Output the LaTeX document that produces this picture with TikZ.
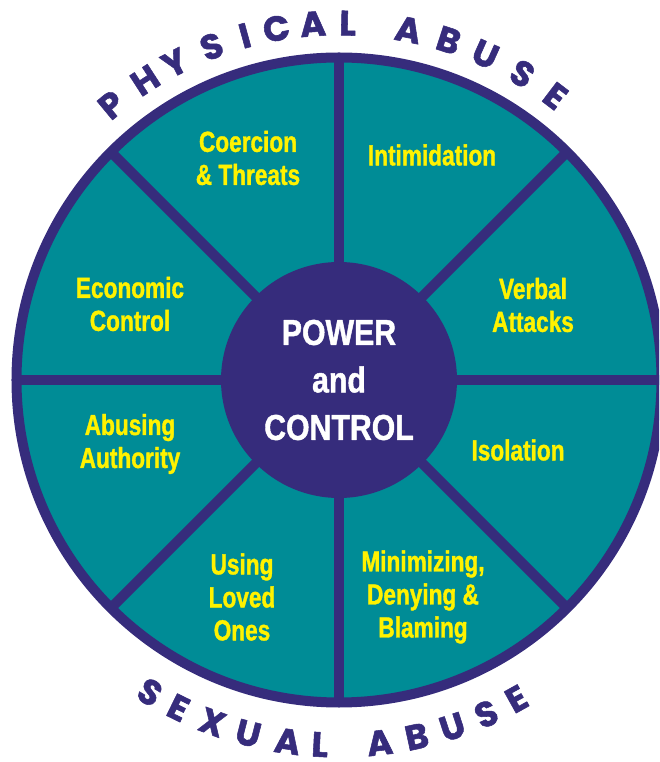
\documentclass[tikz,border=0pt]{standalone}
\usepackage{fontspec}
\setmainfont{Liberation Sans}
\newfontfamily\condfont{Liberation Sans}[FakeStretch=0.78, FakeBold=1.2]
\newfontfamily\hubfont{Liberation Sans}[FakeStretch=0.84, FakeBold=1.2]
\newfontfamily\arcfont{Poppins}[FakeBold=1.5]
\usepackage{tikz}

\definecolor{wheelteal}{RGB}{0,140,150}
\definecolor{wheelpurple}{RGB}{54,44,124}
\definecolor{labelyellow}{RGB}{255,242,0}

\begin{document}
\begin{tikzpicture}[x=1pt, y=1pt, line join=round,
  slice/.style={text=labelyellow, align=center, font=\condfont\bfseries\fontsize{29}{33}\selectfont},
  hub/.style={circle, fill=wheelpurple, minimum size=236pt, inner sep=0pt, text=white, align=center,
    font=\hubfont\bfseries\fontsize{36}{47.5}\selectfont},
  rimletter/.style={text=wheelpurple, inner sep=0pt, font=\arcfont\bfseries\fontsize{35}{35}\selectfont},
  spoke/.style={wheelpurple, line width=10pt}]

  % page size
  \clip (-339,-382) rectangle (320,380);

  % wheel properties
  \def\rRim{322.5}  % radius of the rim
  \def\rTop{357}  % radius of the upper letters
  \def\rBottom{365}  % radius of the lower letters

  % draw the wheel
  \coordinate (mid) at (0,0);
  \fill[wheelteal] (mid) circle (\rRim);
  \foreach \ang [count=\i] in {0,45,...,315} {
    \coordinate (rim\i) at (\ang:\rRim);
    \draw[spoke] (mid) -- (rim\i);
  }
  \node[hub] (hub) at (mid) {POWER\\and\\CONTROL};
  \draw[wheelpurple, line width=10pt] (mid) circle (\rRim);

  % slices
  \node[slice] (coercion) at (-91,222) {Coercion\\\& Threats};
  \node[slice] (intimidation) at (93,225) {Intimidation};
  \node[slice] (verbal) at (194,75) {Verbal\\Attacks};
  \node[slice] (isolation) at (179,-70) {Isolation};
  \node[slice] (minimizing) at (84,-217) {Minimizing,\\Denying \&\\Blaming};
  \node[slice] (loved) at (-97,-217) {Using\\Loved\\Ones};
  \node[slice] (authority) at (-209,-64) {Abusing\\Authority};
  \node[slice] (economic) at (-209,76) {Economic\\Control};

  % label round the rim
  \foreach \ch/\ang [count=\i] in {P/129.6, H/122.9, Y/117.4, S/110.9, I/105.3, C/100.1, A/94.2,
      L/88.6, A/78.8, B/72.1, U/65.8, S/59.1, E/52.7}
    \node[rimletter, rotate=\ang-90] (top\i) at (\ang:\rTop) {\ch};
  \foreach \ch/\ang [count=\i] in {S/238.8, E/243.9, X/249.7, U/255.6, A/261.9, L/267.0,
      A/276.4, B/282.3, U/288.1, S/293.8, E/299.1}
    \node[rimletter, rotate=\ang+90] (bottom\i) at (\ang:\rBottom) {\ch};

\end{tikzpicture}
\end{document}
